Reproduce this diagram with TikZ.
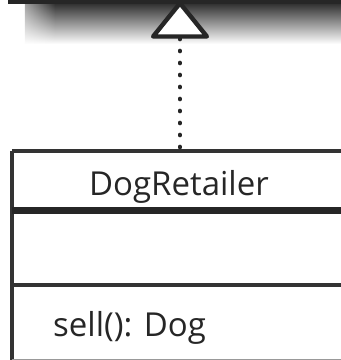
\documentclass[tikz,border=0pt]{standalone}
\usepackage{fontspec}
\setmainfont{Open Sans}
\usetikzlibrary{arrows.meta,fadings}

\tikzfading[name=fade from left, left color=transparent!0, right color=transparent!100]

\tikzset{
  umltext/.style={font=\fontsize{33}{33}\selectfont, text=black!85, inner sep=0pt},
  realizes/.style={black!85, line width=3.6pt, line cap=round,
    dash pattern=on 1pt off 11pt, dash phase=8.5pt,
    -{Triangle[open, fill=white, length=39pt, width=62pt, line width=4.4pt, round=false]}},
  classline/.style={black!80, line width=3.4pt},
}

\begin{document}
\begin{tikzpicture}[x=1pt,y=-1pt]
\useasboundingbox (0,0) rectangle (341,360);
% shadow of the interface box above
\shade[top color=black!82, bottom color=white] (25,3) rectangle (345,44);
\fill[white, path fading=fade from left] (0,3) rectangle (55,46);
\fill[black!85] (8,0) rectangle (345,3.5);

% the class box
\draw[classline] (12,151) -- (345,151);
\draw[classline] (12,151) -- (12,362);
\draw[black!85, line width=7pt] (12,210.5) -- (345,210.5);
\draw[classline] (12,285) -- (345,285);
\draw[black!40, line width=2pt] (12,360) -- (345,360);

\node[umltext, anchor=base] (name) at (179,195) {DogRetailer};
\node[umltext, anchor=base west] (sell) at (53,336) {sell(): Dog};

\coordinate (clstop) at (180,151);
\coordinate (apex) at (180,1);
\draw[realizes] (clstop) -- (apex);
\end{tikzpicture}
\end{document}
